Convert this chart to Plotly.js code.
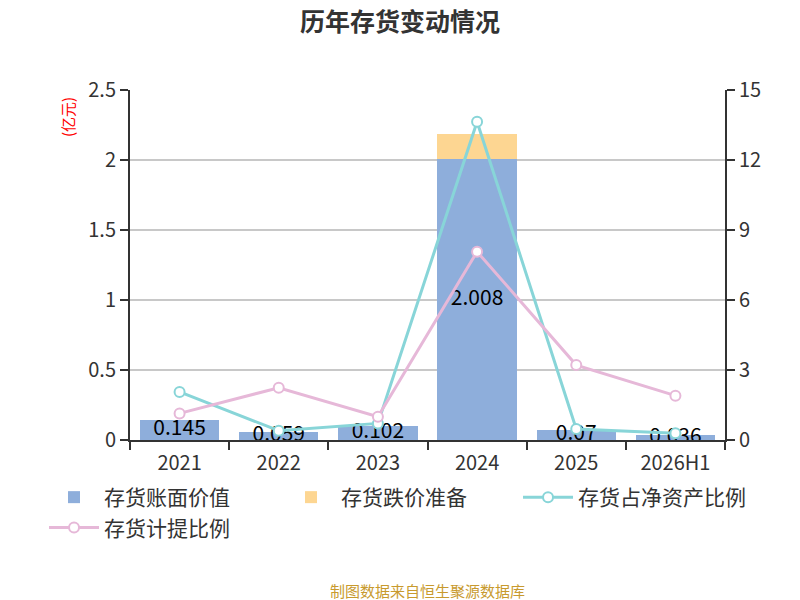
<!DOCTYPE html>
<html>
<head>
<meta charset="utf-8">
<script src="https://cdn.plot.ly/plotly-3.0.1.min.js"></script>
<style>
  html, body { margin: 0; padding: 0; background: #fff; }
  #chart { width: 800px; height: 600px; }
</style>
</head>
<body>
<div id="chart"></div>
<script>
// years and values
var years = ["2021", "2022", "2023", "2024", "2025", "2026H1"];
var bookValue = [0.145, 0.059, 0.102, 2.008, 0.07, 0.036];   // 亿元
var impairment = [0, 0, 0, 0.178, 0, 0];                      // 亿元
var shareOfNetAssets = [2.06, 0.40, 0.71, 13.64, 0.47, 0.29]; // %
var provisionRatio = [1.14, 2.24, 1.0, 8.07, 3.21, 1.9];      // %
var leftTicks = [0, 0.5, 1, 1.5, 2, 2.5];
var rightTicks = [0, 3, 6, 9, 12, 15];

var font = "'Noto Sans CJK SC', 'Noto Sans', sans-serif";

var labelY = bookValue.map(function(v) { return v / 2; });

var traces = [
  {
    type: "bar", name: "存货账面价值", x: years, y: bookValue,
    marker: { color: "#8eaedb" }, hoverinfo: "y"
  },
  {
    type: "bar", name: "存货跌价准备", x: years, y: impairment,
    marker: { color: "#fdd692" }, hoverinfo: "y"
  },
  {
    type: "scatter", mode: "lines+markers", name: "存货占净资产比例",
    x: years, y: shareOfNetAssets, yaxis: "y2",
    line: { color: "#88d5d8", width: 3 },
    marker: { symbol: "circle", size: 10, color: "#fff", line: { color: "#88d5d8", width: 2 } }
  },
  {
    type: "scatter", mode: "lines+markers", name: "存货计提比例",
    x: years, y: provisionRatio, yaxis: "y2",
    line: { color: "#e6b8d8", width: 3 },
    marker: { symbol: "circle", size: 10, color: "#fff", line: { color: "#e6b8d8", width: 2 } }
  },
  {
    type: "scatter", mode: "text", x: years, y: labelY,
    text: bookValue.map(String), textposition: "middle center",
    textfont: { size: 21, color: "#000", family: font },
    showlegend: false, hoverinfo: "skip"
  }
];

var layout = {
  width: 800, height: 600,
  margin: { l: 130, r: 75, t: 90, b: 160 },
  paper_bgcolor: "#fff", plot_bgcolor: "#fff",
  font: { family: font, color: "#333", size: 20 },
  barmode: "stack", bargap: 0.2,
  title: {
    text: "<b>历年存货变动情况</b>", x: 0.5, xanchor: "center",
    y: 0.963, yanchor: "middle", font: { size: 25, color: "#333" }
  },
  xaxis: {
    type: "category", showline: true, linecolor: "#333", linewidth: 2,
    ticks: "outside", tickson: "boundaries", ticklen: 8, tickcolor: "#333", tickwidth: 2,
    ticklabelstandoff: 4,
    tickfont: { size: 20, color: "#333" }, showgrid: false, fixedrange: true
  },
  yaxis: {
    range: [0, 2.5], tickvals: leftTicks, ticktext: leftTicks.map(String),
    showline: true, linecolor: "#333", linewidth: 2,
    ticks: "outside", ticklen: 8, tickcolor: "#333", tickwidth: 2,
    showgrid: true, gridcolor: "#c8c8c8", gridwidth: 2, zeroline: false,
    tickfont: { size: 20, color: "#333" }
  },
  yaxis2: {
    overlaying: "y", side: "right", range: [0, 15],
    tickvals: rightTicks, ticktext: rightTicks.map(String),
    showline: true, linecolor: "#333", linewidth: 2,
    ticks: "outside", ticklen: 8, tickcolor: "#333", tickwidth: 2,
    showgrid: false, zeroline: false,
    tickfont: { size: 20, color: "#333" }
  },
  legend: {
    orientation: "h", xref: "paper", yref: "paper",
    x: -0.1445, xanchor: "left", y: -0.1057, yanchor: "top",
    traceorder: "normal",
    entrywidth: 172, entrywidthmode: "pixels",
    font: { size: 21, color: "#333" }, itemwidth: 50, tracegroupgap: 0
  },
  annotations: [
    {
      xref: "paper", yref: "paper", x: -0.104, y: 0.923,
      text: "(亿元)", textangle: -90, showarrow: false,
      font: { size: 15, color: "#ff0000" }, xanchor: "center", yanchor: "middle"
    },
    {
      xref: "paper", yref: "paper", x: 1.118, y: 0.97,
      text: "(%)", textangle: -90, showarrow: false,
      font: { size: 15, color: "#ff0000" }, xanchor: "left", yanchor: "middle"
    },
    {
      xref: "paper", yref: "paper", x: 0.5, xanchor: "center",
      y: -0.4286, yanchor: "middle",
      text: "制图数据来自恒生聚源数据库", showarrow: false,
      font: { size: 15, color: "#c89a2e" }
    }
  ],
  showlegend: true
};

Plotly.newPlot("chart", traces, layout, { displayModeBar: false, staticPlot: true });
</script>
</body>
</html>
